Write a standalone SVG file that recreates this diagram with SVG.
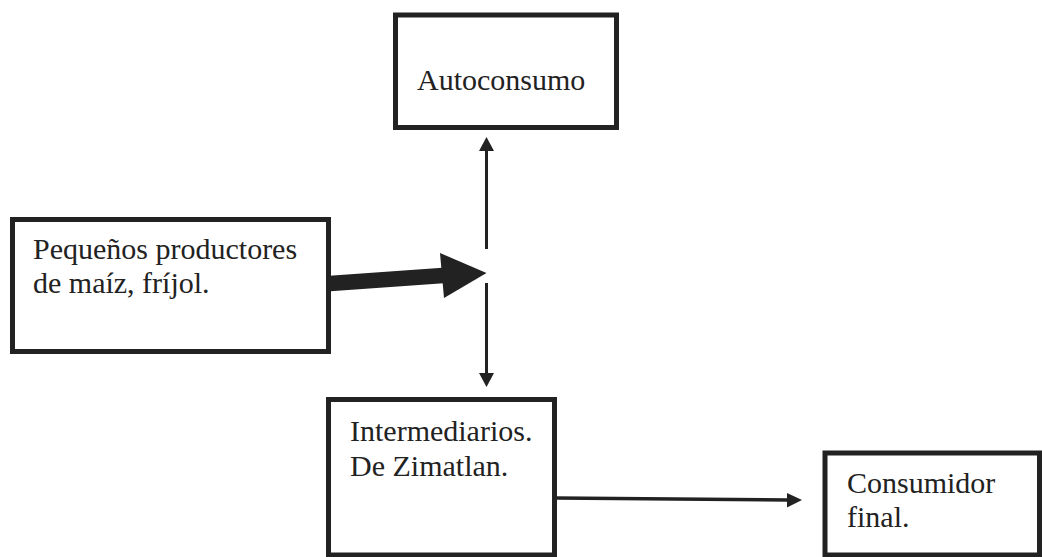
<svg xmlns="http://www.w3.org/2000/svg" width="1042" height="557" viewBox="0 0 1042 557">
<style>
.box{fill:#fff;stroke:#222;stroke-width:5}
.t{font-family:"Liberation Serif","Times New Roman",serif;font-size:30px;fill:#222}
.ln{stroke:#222;fill:none}
.hd{fill:#222;stroke:none}
</style>
<rect width="1042" height="557" fill="#fff"/>
<g id="connectors">
<line class="ln" x1="486.5" y1="249" x2="486.5" y2="150" stroke-width="3"/>
<polygon class="hd" points="486.5,137 494,151 479,151"/>
<line class="ln" x1="486.5" y1="283" x2="486.5" y2="374" stroke-width="3"/>
<polygon class="hd" points="486.5,387 479,373 494,373"/>
<line class="ln" x1="330" y1="283.5" x2="443" y2="275.5" stroke-width="15.5"/>
<polygon class="hd" points="440,253 486.5,273 444,298"/>
<line class="ln" x1="556" y1="498" x2="789" y2="500" stroke-width="3.5"/>
<polygon class="hd" points="802,500 787,493 787,507.5"/>
</g>
<g id="autoconsumo">
<rect class="box" x="395.5" y="15" width="221" height="112.5"/>
<text class="t" x="417" y="90">Autoconsumo</text>
</g>
<g id="productores">
<rect class="box" x="12.5" y="219.5" width="316" height="132"/>
<text class="t" x="33" y="259">Pequeños productores</text>
<text class="t" x="33" y="293">de maíz, fríjol.</text>
</g>
<g id="intermediarios">
<rect class="box" x="328.5" y="399.5" width="226" height="155.5"/>
<text class="t" x="350" y="441">Intermediarios.</text>
<text class="t" x="350" y="475.5">De Zimatlan.</text>
</g>
<g id="consumidor">
<rect class="box" x="825" y="453" width="214.5" height="102"/>
<text class="t" x="847" y="493">Consumidor</text>
<text class="t" x="847" y="527">final.</text>
</g>
</svg>
